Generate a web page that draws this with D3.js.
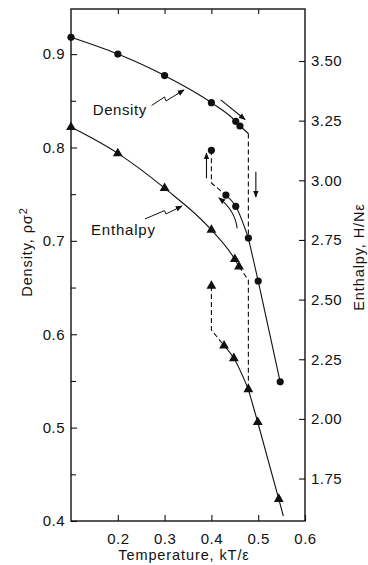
<!DOCTYPE html>
<html>
<head>
<meta charset="utf-8">
<script src="https://cdn.jsdelivr.net/npm/d3@7"></script>
<style>
  body { margin: 0; background: #fff; }
  svg { display: block; font-family: "Liberation Sans", Arial, sans-serif; }
</style>
</head>
<body>
<svg width="368" height="565"></svg>
<script>
// heating run: density (circles, left axis) and enthalpy (triangles, right axis)
const tempDens = [0.10, 0.20, 0.30, 0.40, 0.452, 0.461, 0.479, 0.500, 0.547]
const density = [0.918, 0.900, 0.877, 0.848, 0.828, 0.823, 0.703, 0.657, 0.549]
const tempEnth = [0.10, 0.20, 0.30, 0.40, 0.450, 0.459, 0.479, 0.499, 0.544]
const enthalpy = [3.223, 3.113, 2.967, 2.792, 2.669, 2.638, 2.124, 1.986, 1.664]

// cooling run
const tempDensCool = [0.400, 0.431, 0.452]
const densityCool = [0.797, 0.749, 0.737]
const tempEnthCool = [0.400, 0.427, 0.448]
const enthalpyCool = [2.557, 2.307, 2.254]

// corner points of the dashed jumps
const densJump = [[0.461, 0.823], [0.479, 0.815], [0.479, 0.703]]
const densCoolJump = [[0.400, 0.797], [0.400, 0.762], [0.431, 0.749]]
const enthJump = [[0.459, 2.638], [0.479, 2.582], [0.479, 2.124]]
const enthCoolJump = [[0.400, 2.557], [0.400, 2.373], [0.427, 2.307]]
const enthTail = [0.5536, 1.593]

const xTicks = [0.2, 0.3, 0.4, 0.5, 0.6]
const yLeftTicks = [0.4, 0.5, 0.6, 0.7, 0.8, 0.9]
const yLeftMinor = [0.45, 0.55, 0.65, 0.75, 0.85]
const yRightTicks = [1.75, 2.00, 2.25, 2.50, 2.75, 3.00, 3.25, 3.50]

const svg = d3.select('svg')
const plotL = 71, plotR = 305, plotT = 9, plotB = 521

const x = d3.scaleLinear().domain([0.1, 0.6]).range([plotL, plotR])
const yL = d3.scaleLinear().domain([0.4, 0.9483]).range([plotB, plotT])
const yR = d3.scaleLinear().domain([1.572, 3.718]).range([plotB, plotT])

svg.append('defs').append('marker')
  .attr('id', 'head')
  .attr('viewBox', '0 0 10 10')
  .attr('refX', 9).attr('refY', 5)
  .attr('markerWidth', 7).attr('markerHeight', 7)
  .attr('markerUnits', 'userSpaceOnUse')
  .attr('orient', 'auto')
  .append('path')
  .attr('d', 'M0,1 L10,5 L0,9 Z')
  .attr('fill', '#111')

// frame
svg.append('rect')
  .attr('x', plotL).attr('y', plotT)
  .attr('width', plotR - plotL).attr('height', plotB - plotT)
  .attr('fill', 'none').attr('stroke', '#111').attr('stroke-width', 1.4)

// axes, ticks pointing inward
const fs = '15px'
const gx = svg.append('g').attr('transform', `translate(0,${plotB})`)
  .call(d3.axisBottom(x).tickValues(xTicks).tickSizeInner(-6).tickSizeOuter(0).tickPadding(12).tickFormat(d3.format('.1f')))
const gxTop = svg.append('g').attr('transform', `translate(0,${plotT})`)
  .call(d3.axisTop(x).tickValues([0.2, 0.3, 0.4, 0.5]).tickSizeInner(-5).tickSizeOuter(0).tickFormat(''))
const gyL = svg.append('g').attr('transform', `translate(${plotL},0)`)
  .call(d3.axisLeft(yL).tickValues(yLeftTicks).tickSizeInner(-6).tickSizeOuter(0).tickPadding(6).tickFormat(d3.format('.1f')))
const gyLm = svg.append('g').attr('transform', `translate(${plotL},0)`)
  .call(d3.axisLeft(yL).tickValues(yLeftMinor).tickSizeInner(-5).tickSizeOuter(0).tickFormat(''))
const gyR = svg.append('g').attr('transform', `translate(${plotR},0)`)
  .call(d3.axisRight(yR).tickValues(yRightTicks).tickSizeInner(-6).tickSizeOuter(0).tickPadding(6).tickFormat(d3.format('.2f')))

;[gx, gxTop, gyL, gyLm, gyR].forEach(g => {
  g.select('.domain').remove()
  g.selectAll('line').attr('stroke', '#111').attr('stroke-width', 1.1)
  g.selectAll('text').attr('font-size', fs).attr('fill', '#111')
    .attr('font-family', '"Liberation Sans", Arial, sans-serif').attr('letter-spacing', '0.5px')
})
gx.selectAll('text').attr('dy', '0.71em')

// axis titles
svg.append('text')
  .attr('x', (plotL + plotR) / 2 - 4).attr('y', 560)
  .attr('text-anchor', 'middle').attr('font-size', '14.5px').attr('letter-spacing', '0.9px')
  .attr('fill', '#111')
  .text('Temperature, kT/\u03b5')

const dl = svg.append('text')
  .attr('transform', 'translate(32,252) rotate(-90)')
  .attr('text-anchor', 'middle').attr('font-size', '14.5px').attr('letter-spacing', '0.9px')
  .attr('fill', '#111')
dl.append('tspan').text('Density, \u03c1\u03c3')
dl.append('tspan').attr('dy', '-0.45em').attr('font-size', '11px').text('2')

svg.append('text')
  .attr('transform', 'translate(364,257) rotate(-90)')
  .attr('text-anchor', 'middle').attr('font-size', '14.5px').attr('letter-spacing', '0.9px')
  .attr('fill', '#111')
  .text('Enthalpy, H/N\u03b5')

// lines
const lineL = d3.line().x(d => x(d[0])).y(d => yL(d[1]))
const lineR = d3.line().x(d => x(d[0])).y(d => yR(d[1]))
const zip = (a, b) => a.map((v, i) => [v, b[i]])

const densPts = zip(tempDens, density)
const enthPts = zip(tempEnth, enthalpy)

function draw(path, dashed) {
  svg.append('path').attr('d', path)
    .attr('fill', 'none').attr('stroke', '#111').attr('stroke-width', 1.1)
    .attr('stroke-dasharray', dashed ? '5,3' : null)
}

draw(lineL.curve(d3.curveMonotoneX)(densPts.slice(0, 6)), false)
draw(lineL.curve(d3.curveLinear)(densJump.slice(0, 2)), false)
draw(lineL(densJump.slice(1)), true)
draw(lineL.curve(d3.curveMonotoneX)(densPts.slice(6)), false)
draw(lineL.curve(d3.curveLinear)(densCoolJump), true)
draw(lineL.curve(d3.curveMonotoneX)(zip(tempDensCool, densityCool).slice(1).concat([densPts[6]])), false)

draw(lineR.curve(d3.curveMonotoneX)(enthPts.slice(0, 6)), false)
draw(lineR.curve(d3.curveLinear)(enthJump), true)
draw(lineR.curve(d3.curveMonotoneX)(enthPts.slice(6).concat([enthTail])), false)
draw(lineR.curve(d3.curveLinear)(enthCoolJump), true)
draw(lineR.curve(d3.curveMonotoneX)(zip(tempEnthCool, enthalpyCool).slice(1).concat([enthPts[6]])), false)

// markers
svg.append('g').selectAll('circle')
  .data(densPts.concat(zip(tempDensCool, densityCool)))
  .join('circle')
  .attr('cx', d => x(d[0])).attr('cy', d => yL(d[1]))
  .attr('r', 3.6).attr('fill', '#111')

const tri = d3.symbol().type(d3.symbolTriangle).size(42)
svg.append('g').selectAll('path')
  .data(enthPts.concat(zip(tempEnthCool, enthalpyCool)))
  .join('path')
  .attr('transform', d => `translate(${x(d[0])},${yR(d[1])})`)
  .attr('d', tri).attr('fill', '#111')

// direction arrows (density units)
const arrows = [
  [[0.420, 0.851], [0.472, 0.830]],
  [[0.495, 0.774], [0.495, 0.747]],
  [[0.3895, 0.767], [0.3895, 0.794]]
]
arrows.forEach(a => {
  svg.append('path').attr('d', d3.line().x(d => x(d[0])).y(d => yL(d[1]))(a))
    .attr('fill', 'none').attr('stroke', '#111').attr('stroke-width', 1.1)
    .attr('marker-end', 'url(#head)')
})
const arc = [[0.455, 0.7135], [0.4504, 0.7327], [0.416, 0.746]]
const ap = d3.path()
ap.moveTo(x(arc[0][0]), yL(arc[0][1]))
ap.quadraticCurveTo(x(arc[1][0]), yL(arc[1][1]), x(arc[2][0]), yL(arc[2][1]))
svg.append('path').attr('d', ap.toString())
  .attr('fill', 'none').attr('stroke', '#111').attr('stroke-width', 1.1)
  .attr('marker-end', 'url(#head)')

// curve labels with zigzag leaders
const densLeader = [[0.2724, 0.8450], [0.2998, 0.8541], [0.3030, 0.8498], [0.3415, 0.8616]]
const enthLeader = [[0.2581, 2.838], [0.2998, 2.873], [0.3030, 2.859], [0.3372, 2.892]]

svg.append('path').attr('d', d3.line().x(d => x(d[0])).y(d => yL(d[1]))(densLeader))
  .attr('fill', 'none').attr('stroke', '#111').attr('stroke-width', 1)
  .attr('marker-end', 'url(#head)')
svg.append('path').attr('d', d3.line().x(d => x(d[0])).y(d => yR(d[1]))(enthLeader))
  .attr('fill', 'none').attr('stroke', '#111').attr('stroke-width', 1)
  .attr('marker-end', 'url(#head)')

svg.append('text')
  .attr('x', x(0.1464)).attr('y', yL(0.8348))
  .attr('font-size', '15px').attr('letter-spacing', '0.6px').attr('fill', '#111')
  .text('Density')
svg.append('text')
  .attr('x', x(0.1427)).attr('y', yR(2.771))
  .attr('font-size', '15px').attr('letter-spacing', '0.8px').attr('fill', '#111')
  .text('Enthalpy')
</script>
</body>
</html>
